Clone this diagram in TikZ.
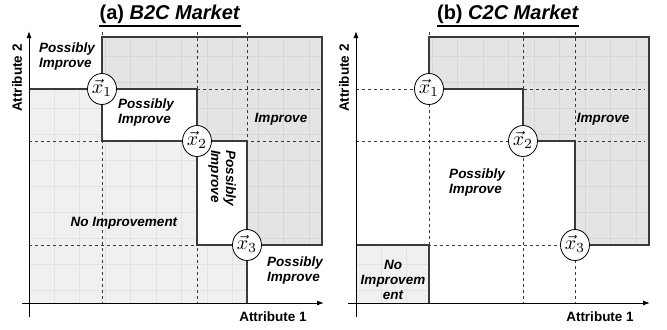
\documentclass[tikz,border=0pt]{standalone}
\usepackage{graphicx}
\usepackage{fontspec}
\setmainfont{Liberation Sans}
\usetikzlibrary{shapes.geometric,arrows.meta}
\definecolor{impfill}{HTML}{E4E4E4}
\definecolor{impgrid}{HTML}{D6D6D6}
\definecolor{nofill}{HTML}{F0F0F0}
\definecolor{nogrid}{HTML}{E2E2E2}
\definecolor{edgecol}{HTML}{3A3A3A}
\newcommand{\ptlabel}[1]{\smash{\makebox[0pt]{\raisebox{-4.5bp}{\scalebox{2.0}{$\vec{x}_{#1}$}}}}}
\tikzset{
  lbl/.style={font=\fontsize{13.5bp}{15bp}\selectfont\bfseries\itshape, align=left, inner sep=0pt},
  axlbl/.style={font=\fontsize{13.5bp}{15bp}\selectfont\bfseries, inner sep=0pt},
  ttl/.style={font=\fontsize{20bp}{22bp}\selectfont\bfseries, inner sep=0pt},
  guide/.style={draw=edgecol, line width=0.8bp, dash pattern=on 3bp off 3bp},
  border/.style={draw=edgecol, line width=1.2bp},
  axis/.style={draw=black, line width=1bp, -{Latex[length=7bp,width=5bp]}},
  pt/.style={ellipse, draw=black, fill=white, line width=0.8bp, minimum width=29bp, minimum height=31bp, inner sep=0pt},
}
\begin{document}
\begin{tikzpicture}[x=1bp,y=-1bp]
\useasboundingbox (0,0) rectangle (667,329);

% ===== Panel (a) =====
\fill[nofill] (29,89) -- (102,89) -- (102,141) -- (197,141) -- (197,245) -- (247,245) -- (247,303) -- (29,303) -- cycle;
\begin{scope}
\clip (29,89) -- (102,89) -- (102,141) -- (197,141) -- (197,245) -- (247,245) -- (247,303) -- (29,303) -- cycle;
\foreach \gx in {54,79.5,...,330} \draw[nogrid,line width=0.6bp] (\gx,30) -- (\gx,310);
\foreach \gy in {290,264,...,30} \draw[nogrid,line width=0.6bp] (20,\gy) -- (330,\gy);
\end{scope}
\fill[impfill] (102,37) -- (322,37) -- (322,245) -- (247,245) -- (247,141) -- (197,141) -- (197,89) -- (102,89) -- cycle;
\begin{scope}
\clip (102,37) -- (322,37) -- (322,245) -- (247,245) -- (247,141) -- (197,141) -- (197,89) -- (102,89) -- cycle;
\foreach \gx in {54,79.5,...,330} \draw[impgrid,line width=0.6bp] (\gx,30) -- (\gx,310);
\foreach \gy in {290,264,...,30} \draw[impgrid,line width=0.6bp] (20,\gy) -- (330,\gy);
\end{scope}
\draw[border] (102,89) -- (102,37) -- (322,37) -- (322,245) -- (247,245) -- (247,141) -- (197,141) -- (197,89) -- cycle;
\draw[border] (29,89) -- (102,89) -- (102,141) -- (197,141) -- (197,245) -- (247,245) -- (247,303);
\draw[guide] (102,32) -- (102,303);
\draw[guide] (197,32) -- (197,303);
\draw[guide] (247,32) -- (247,303);
\draw[guide] (29,89) -- (320,89);
\draw[guide] (29,141) -- (320,141);
\draw[guide] (29,245) -- (320,245);
\coordinate (axx0) at (22,303);
\coordinate (axx1) at (324,303);
\coordinate (axy0) at (29,317);
\coordinate (axy1) at (29,31);
\draw[axis] (axx0) -- (axx1);
\draw[axis] (axy0) -- (axy1);
\node[axlbl] (a2a) at (17,78) [rotate=90] {Attribute 2};
\node[axlbl] (a1a) at (273,317) {Attribute 1};
\node[ttl] (ta) at (170,14) {(a) \textit{B2C Market}};
\draw[line width=1.3bp] ([yshift=-2.5bp]ta.south west) -- ([yshift=-2.5bp]ta.south east);
\node[lbl] (pa1) at (67,57) {Possibly\\Improve};
\node[lbl] (pa2) at (146,113) {Possibly\\Improve};
\node[lbl] (pa3) at (222,178) [rotate=-90] {Possibly\\Improve};
\node[lbl] (pa4) at (295,271) {Possibly\\Improve};
\node[lbl] (ia) at (281,119) {Improve};
\node[lbl] (na) at (124,223) {No Improvement};
\node[pt] (xa1) at (102,89) {\ptlabel{1}};
\node[pt] (xa2) at (197,141) {\ptlabel{2}};
\node[pt] (xa3) at (247,245) {\ptlabel{3}};

% ===== Panel (b) =====
\fill[nofill] (356,245) rectangle (429,303);
\begin{scope}
\clip (356,245) rectangle (429,303);
\foreach \gx in {381,406.5,...,440} \draw[nogrid,line width=0.6bp] (\gx,240) -- (\gx,310);
\foreach \gy in {290,264} \draw[nogrid,line width=0.6bp] (350,\gy) -- (440,\gy);
\end{scope}
\draw[border] (356,245) -- (429,245) -- (429,303);
\fill[impfill] (429,37) -- (649,37) -- (649,245) -- (575,245) -- (575,141) -- (523,141) -- (523,89) -- (429,89) -- cycle;
\begin{scope}
\clip (429,37) -- (649,37) -- (649,245) -- (575,245) -- (575,141) -- (523,141) -- (523,89) -- (429,89) -- cycle;
\foreach \gx in {381,406.5,...,660} \draw[impgrid,line width=0.6bp] (\gx,30) -- (\gx,310);
\foreach \gy in {290,264,...,30} \draw[impgrid,line width=0.6bp] (350,\gy) -- (660,\gy);
\end{scope}
\draw[border] (429,89) -- (429,37) -- (649,37) -- (649,245) -- (575,245) -- (575,141) -- (523,141) -- (523,89) -- cycle;
\draw[guide] (429,32) -- (429,303);
\draw[guide] (523,32) -- (523,303);
\draw[guide] (575,32) -- (575,303);
\draw[guide] (356,89) -- (645,89);
\draw[guide] (356,141) -- (645,141);
\draw[guide] (356,245) -- (645,245);
\coordinate (bxx0) at (348,303);
\coordinate (bxx1) at (650,303);
\coordinate (bxy0) at (356,317);
\coordinate (bxy1) at (356,31);
\draw[axis] (bxx0) -- (bxx1);
\draw[axis] (bxy0) -- (bxy1);
\node[axlbl] (a2b) at (344,78) [rotate=90] {Attribute 2};
\node[axlbl] (a1b) at (600,317) {Attribute 1};
\node[ttl] (tb) at (508,14) {(b) \textit{C2C Market}};
\draw[line width=1.3bp] ([yshift=-2.5bp]tb.south west) -- ([yshift=-2.5bp]tb.south east);
\node[lbl] (pb) at (477,183) {Possibly\\Improve};
\node[lbl] (ib) at (603,119) {Improve};
\node[lbl, align=center] (nb) at (393,280) {No\\Improvem\\ent};
\node[pt] (xb1) at (429,89) {\ptlabel{1}};
\node[pt] (xb2) at (523,141) {\ptlabel{2}};
\node[pt] (xb3) at (575,245) {\ptlabel{3}};
\end{tikzpicture}
\end{document}
